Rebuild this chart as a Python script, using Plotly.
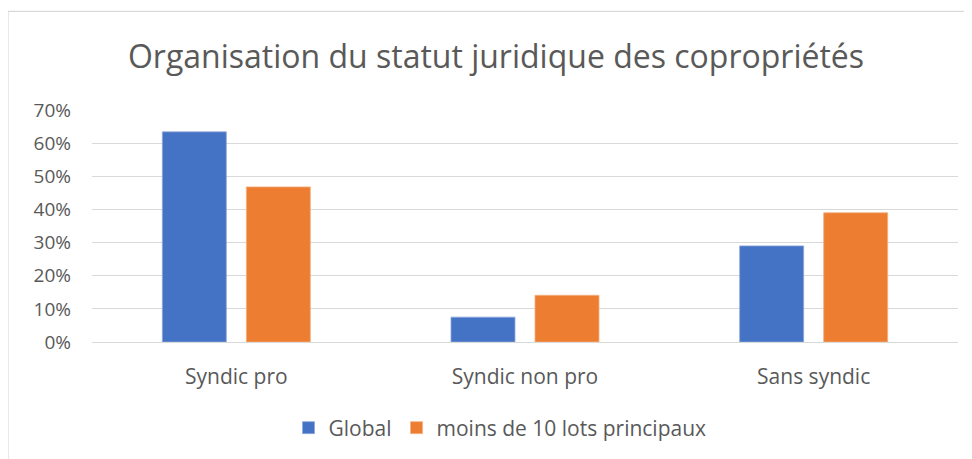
import plotly.graph_objects as go

categories = ["Syndic pro", "Syndic non pro", "Sans syndic"]
global_vals = [0.634, 0.075, 0.290]
moins10_vals = [0.468, 0.141, 0.390]
tick_vals = [0, 0.1, 0.2, 0.3, 0.4, 0.5, 0.6, 0.7]
tick_text = ["0%", "10%", "20%", "30%", "40%", "50%", "60%", "70%"]

FONT = "Open Sans"
TXT = "#595959"

fig = go.Figure()
fig.add_trace(go.Bar(x=categories, y=global_vals, name="Global",
                     marker=dict(color="#4472C4", line=dict(color="#8FAADC", width=0.8))))
fig.add_trace(go.Bar(x=categories, y=moins10_vals, name="moins de 10 lots principaux",
                     marker=dict(color="#ED7D31", line=dict(color="#F4B183", width=0.8))))

# page body has an 8px offset; figure coordinates are page coordinates minus 8
OFF = 8
W, H = 964, 451
L = 92 - OFF
T = 110 - OFF
R = W - (958 - OFF)
B = H - (343 - OFF)
pw = W - L - R
ph = H - T - B

def px_x(x):
    return (x - OFF - L) / pw

def px_y(y):
    return (H - B - (y - OFF)) / ph

fig.update_layout(
    width=W, height=H,
    margin=dict(l=L, r=R, t=T, b=B),
    paper_bgcolor="white", plot_bgcolor="white",
    barmode="group", bargap=0.418, bargroupgap=0.238,
    font=dict(family=FONT, color=TXT, size=19),
    title=dict(text="Organisation du statut juridique des copropriétés",
               x=px_x(496), xref="paper", xanchor="center",
               y=1 - (57 - OFF) / H, yref="container", yanchor="middle",
               font=dict(family=FONT, size=32, color=TXT)),
    showlegend=True,
    legend=dict(orientation="h", x=px_x(500), xanchor="center",
                y=px_y(428), yanchor="middle",
                font=dict(family=FONT, size=21, color=TXT),
                itemwidth=30, traceorder="normal"),
    shapes=[dict(type="rect", xref="paper", yref="paper",
                 x0=px_x(8), x1=px_x(990), y0=px_y(480), y1=px_y(11),
                 line=dict(color="#D9D9D9", width=1.2), fillcolor="rgba(0,0,0,0)",
                 layer="below")],
)
fig.update_xaxes(showgrid=False, showline=False, zeroline=False, ticks="",
                 tickfont=dict(family=FONT, size=21, color=TXT),
                 ticklabelstandoff=20)
fig.update_yaxes(range=[0, 0.7], tickvals=tick_vals, ticktext=tick_text,
                 showgrid=True, gridcolor="#D9D9D9", gridwidth=1.4,
                 zeroline=True, zerolinecolor="#D9D9D9", zerolinewidth=1.4,
                 showline=False, ticks="",
                 tickfont=dict(family=FONT, size=19, color=TXT),
                 ticklabelstandoff=20)

fig.write_html("out.html")
